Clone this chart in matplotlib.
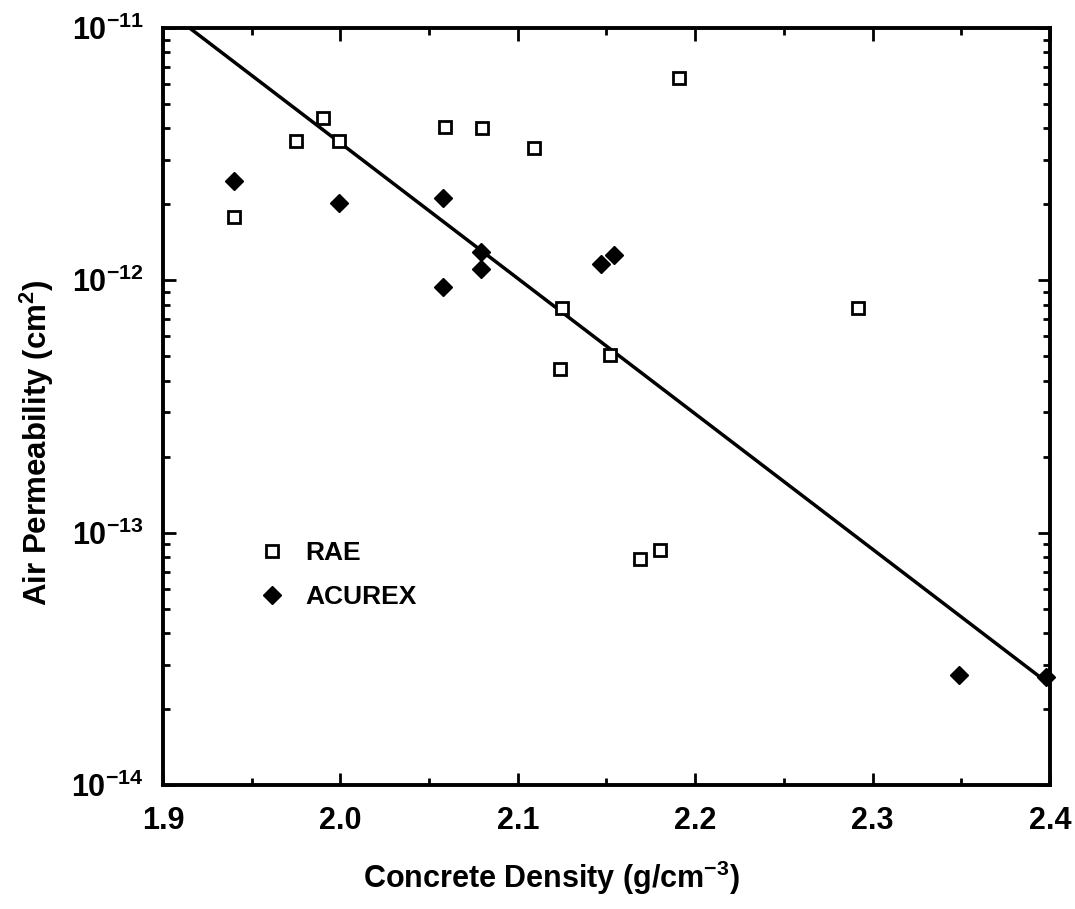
import numpy as np
import matplotlib
matplotlib.use('Agg')
import matplotlib.pyplot as plt
from matplotlib.ticker import FixedLocator, LogLocator, NullFormatter

# data
rae_density = [1.940, 1.975, 1.990, 1.999, 2.059, 2.080, 2.109, 2.191, 2.125, 2.124, 2.152, 2.169, 2.180, 2.292]
rae_perm = [1.78e-12, 3.56e-12, 4.4e-12, 3.56e-12, 4.06e-12, 4.0e-12, 3.34e-12, 6.34e-12,
            7.8e-13, 4.45e-13, 5.06e-13, 7.85e-14, 8.5e-14, 7.76e-13]

acurex_density = [1.940, 1.999, 2.058, 2.058, 2.079, 2.079, 2.147, 2.154, 2.349, 2.398]
acurex_perm = [2.48e-12, 2.02e-12, 2.12e-12, 9.4e-13, 1.29e-12, 1.11e-12, 1.16e-12, 1.26e-12,
               2.73e-14, 2.68e-14]

fit_density = [1.915, 2.40]
fit_perm = [1.0e-11, 2.5e-14]

x_ticks = [1.9, 2.0, 2.1, 2.2, 2.3, 2.4]
y_ticks = [1e-14, 1e-13, 1e-12, 1e-11]
y_labels = ['$10^{-14}$', '$10^{-13}$', '$10^{-12}$', '$10^{-11}$']

plt.rcParams['font.family'] = ['Liberation Sans', 'DejaVu Sans']
plt.rcParams['font.weight'] = 'bold'
plt.rcParams['mathtext.fontset'] = 'custom'
plt.rcParams['mathtext.rm'] = 'Liberation Sans:bold'
plt.rcParams['mathtext.it'] = 'Liberation Sans:bold'
plt.rcParams['mathtext.bf'] = 'Liberation Sans:bold'

fig = plt.figure(figsize=(10.75, 9.09), dpi=100)
ax = fig.add_axes([0.1516, 0.1364, 0.8251, 0.8328])

ax.plot(fit_density, fit_perm, 'k-', lw=2.5)
ax.plot(rae_density, rae_perm, 's', ms=9, mfc='white', mec='black', mew=2, ls='none', label='RAE', clip_on=False)
ax.plot(acurex_density, acurex_perm, 'D', ms=9, mfc='black', mec='black', ls='none', label='ACUREX', clip_on=False)

ax.set_yscale('log')
ax.set_xlim(1.9, 2.4)
ax.set_ylim(1e-14, 1e-11)

ax.xaxis.set_major_locator(FixedLocator(x_ticks))
ax.xaxis.set_minor_locator(FixedLocator([1.95, 2.05, 2.15, 2.25, 2.35]))
ax.set_xticklabels(['%.1f' % v for v in x_ticks])
ax.yaxis.set_major_locator(FixedLocator(y_ticks))
ax.set_yticklabels(y_labels)
ax.yaxis.set_minor_locator(LogLocator(base=10, subs=np.arange(2, 10)))
ax.yaxis.set_minor_formatter(NullFormatter())

ax.tick_params(which='both', direction='in', top=True, right=True, width=2, labelsize=22)
ax.tick_params(axis='x', which='major', pad=15)
ax.tick_params(axis='y', which='major', pad=14)
ax.tick_params(which='major', length=9)
ax.tick_params(which='minor', length=5)
for s in ax.spines.values():
    s.set_linewidth(2.8)

fig.text(551 / 1075, 1 - 878 / 909, 'Concrete Density (g/cm$^{-3}$)', fontsize=22,
         fontweight='bold', ha='center', va='center')
fig.text(37 / 1075, 1 - 443 / 909, 'Air Permeability (cm$^2$)', fontsize=22.5,
         fontweight='bold', ha='center', va='center', rotation=90)

ax.legend(loc='upper left', bbox_to_anchor=(0.108, 0.322), frameon=False, fontsize=19,
          handletextpad=0.75, labelspacing=0.75, handlelength=1.0, borderaxespad=0,
          borderpad=0)

fig.savefig('out.png', dpi=100)
